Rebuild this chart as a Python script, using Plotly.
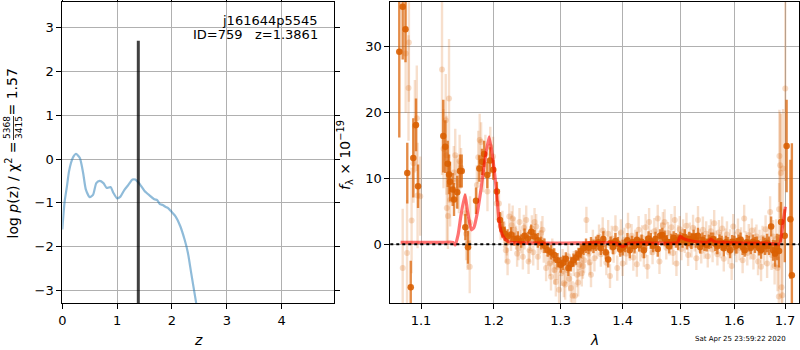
import plotly.graph_objects as go

# ---------------- left panel: redshift probability ----------------
pz_z = [0.0, 0.04, 0.085, 0.12, 0.158, 0.2, 0.25, 0.32, 0.38, 0.43, 0.5, 0.56, 0.62, 0.68,
        0.75, 0.81, 0.88, 0.93, 1.0, 1.06, 1.13, 1.2, 1.28, 1.33, 1.41, 1.5, 1.59, 1.68,
        1.73, 1.78, 1.83, 1.88, 1.93, 1.98, 2.07, 2.15, 2.23, 2.29, 2.35, 2.44, 2.5]
pz_logp = [-1.61, -1.0, -0.62, -0.3, -0.09, 0.05, 0.12, 0.02, -0.32, -0.7, -0.87, -0.82, -0.55, -0.5,
           -0.55, -0.66, -0.64, -0.77, -0.9, -0.86, -0.71, -0.6, -0.47, -0.47, -0.57, -0.73, -0.83, -0.92,
           -0.94, -1.03, -1.05, -1.09, -1.12, -1.19, -1.32, -1.53, -1.84, -2.14, -2.6, -3.28, -3.7]
best_z = [1.3861, 1.3861]
best_logp = [-10.0, 2.7]

# ---------------- right panel: spectrum ----------------
light_wave = [1.0762, 1.0800, 1.0818, 1.0837, 1.0842, 1.0877, 1.0901, 1.0920, 1.0945, 1.0955, 1.0990,
              1.1280, 1.1300, 1.1330, 1.1340, 1.1345, 1.1360, 1.1375, 1.1390, 1.1440, 1.1460, 1.1480,
              1.1510, 1.1520, 1.1540, 1.1600, 1.1610, 1.1630, 1.1660, 1.1665, 1.1760, 1.1780, 1.1800,
              1.1820, 1.1850, 1.1880, 1.1910, 1.1950, 1.1990, 1.2043,
              1.2075, 1.2100, 1.2150, 1.2175, 1.2200, 1.2225, 1.2250, 1.2275, 1.2300, 1.2325, 1.2340,
              1.2375, 1.2400, 1.2425, 1.2450, 1.2475, 1.2510, 1.2525, 1.2560, 1.2600, 1.2625, 1.2650,
              1.2700, 1.2740, 1.2775, 1.2810, 1.2850, 1.2890, 1.2925, 1.2950, 1.2975, 1.3010, 1.3050,
              1.3096, 1.3134, 1.3187, 1.3225, 1.3257, 1.3294, 1.3332, 1.3370, 1.3406, 1.3440, 1.3480,
              1.3535, 1.3578,
              1.361, 1.364, 1.367, 1.370, 1.373, 1.376, 1.379, 1.382, 1.385, 1.388, 1.391, 1.394,
              1.397, 1.400, 1.403, 1.406, 1.409, 1.412, 1.415, 1.418, 1.421, 1.424, 1.427, 1.430,
              1.433, 1.436, 1.439, 1.442, 1.445, 1.448, 1.451, 1.454, 1.457, 1.460, 1.463, 1.466,
              1.469, 1.472, 1.475, 1.478, 1.481, 1.484, 1.487, 1.490, 1.493, 1.496, 1.499, 1.502,
              1.505, 1.508, 1.511, 1.514, 1.517, 1.520, 1.523, 1.526, 1.529, 1.532, 1.535, 1.538,
              1.541, 1.544, 1.547, 1.550, 1.553, 1.556, 1.559, 1.562, 1.565, 1.568, 1.571, 1.574,
              1.577, 1.580, 1.583, 1.586, 1.589, 1.592, 1.595, 1.598, 1.601, 1.604, 1.607, 1.610,
              1.613, 1.616, 1.619, 1.622, 1.625, 1.628, 1.631, 1.634, 1.637, 1.640, 1.643, 1.646,
              1.649, 1.652, 1.655, 1.658, 1.661, 1.664, 1.667, 1.670, 1.673, 1.676, 1.679, 1.682,
              1.685, 1.688,
              1.6875, 1.6887, 1.6900, 1.6915, 1.6930, 1.6945, 1.6960, 1.7005,
              1.2125, 1.2190, 1.2260, 1.2360, 1.2440, 1.2540, 1.2580, 1.2680, 1.2720, 1.2830, 1.2870,
              1.2905, 1.3030, 1.3070, 1.3115, 1.3160, 1.3205, 1.3275, 1.3310, 1.3350, 1.3460, 1.3510]
light_flux = [-3.6, 28.9, -1.3, 23.7, 30.6, 3.6, 12.3, 17.9, 19.1, 7.4, 7.3,
              26.5, 14.5, 18.8, 13.5, 5.5, 4.3, 22.1, 6.7, 10.9, 13.5, 9.5,
              8.7, 12.6, 11.6, 4.7, 1.6, 0.1, -3.4, 3.3, 9.0, 13.2, 15.8,
              15.5, 10.9, 13.6, 8.0, 14.8, 13.3, 6.2,
              6.2, 2.7, 1.5, -0.9, -2.6, 4.2, 0.8, 3.9, 2.2, 1.0, -1.4,
              3.4, 0.4, -1.9, 1.2, 3.7, -2.6, -0.9, 2.4, 3.4, 2.7, -1.9,
              1.7, -0.9, -3.6, -1.4, -4.9, -2.4, -5.7, -3.4, -6.9, -4.4, -5.9,
              -3.9, -5.2, -7.8, -7.8, -4.6, -3.1, -4.4, -2.4, 3.7, -1.4, -4.6,
              -2.1, -0.4,
              1.2, -1.5, 2.1, 0.4, -2.8, 1.6, -4.8, 0.9, -1.1, 2.4, -3.6, 0.2,
              1.8, -2.9, 0.7, -1.4, 2.8, -0.6, 1.3, -2.0, 0.5, -3.0, 2.2, -0.8,
              1.0, -1.7, 2.6, -3.4, 3.4, 0.3, -1.2, 2.0, 0.9, 3.9, -2.6, 1.5,
              2.9, 3.4, -0.5, 1.7, 0.2, 2.6, -1.3, 3.7, -2.9, 1.1, 2.3, -0.7,
              1.9, 0.5, 2.8, -1.6, 1.4, -0.2, 2.5, 0.8, -2.1, 3.7, 0.6, -1.0,
              2.2, -0.4, 1.6, -1.8, 0.9, 2.0, -0.8, 3.2, 0.3, -1.5, 1.8, -0.1,
              2.4, -2.2, 0.7, 1.5, -1.2, 0.4, -3.3, 2.7, 0.1, -1.0, 1.9, -0.5,
              0.8, -2.4, 3.9, 0.2, -1.3, 1.4, -0.3, 2.1, -1.9, 0.6, 1.2, -2.6,
              0.3, -3.4, 1.0, -1.1, 2.3, -2.9, 0.5, 4.9, -1.6, 1.2, -3.3, 0.8,
              -3.6, 5.3,
              -7.9, 13.4, 12.0, 10.8, -6.5, -7.7, 11.5, 23.6,
              3.1, 0.2, 2.9, -0.6, 2.5, 0.9, -1.2, 0.3, 2.2, -2.9, -1.1,
              -3.9, -2.6, -6.1, -1.8, -6.6, -2.9, -5.8, -1.9, -3.3, -2.7, 0.4]
light_err = [9, 9, 8, 8, 9, 8, 6, 7, 8, 8, 6,
             16, 6, 7, 6, 5, 5, 9, 4, 4, 4, 4,
             4, 4, 3, 3, 4, 4, 4, 4, 3, 4, 4,
             3, 3, 3, 3, 3, 3, 2.5,
             2.2, 2.0, 2.0, 1.9, 2.1, 2.0, 1.8, 2.0, 1.9, 1.8, 2.0,
             2.1, 1.8, 1.9, 2.0, 2.2, 1.9, 1.8, 2.0, 2.1, 1.9, 2.0,
             1.8, 1.9, 2.0, 1.8, 2.1, 1.9, 2.2, 2.0, 2.3, 1.9, 2.1,
             2.0, 1.9, 2.2, 2.0, 1.9, 1.8, 2.0, 1.9, 2.0, 1.8, 1.9,
             2.0, 1.8,
             1.8, 1.9, 2.0, 1.7, 1.9, 2.1, 1.8, 1.9, 1.7, 2.0, 1.9, 1.8,
             2.0, 1.9, 1.8, 1.7, 2.0, 1.9, 1.8, 2.0, 1.7, 1.9, 2.1, 1.8,
             1.9, 1.7, 2.0, 1.8, 2.1, 1.9, 1.8, 2.0, 1.7, 2.1, 1.9, 1.8,
             2.0, 1.9, 1.8, 1.7, 1.9, 2.0, 1.8, 2.1, 1.9, 1.8, 2.0, 1.7,
             1.9, 1.8, 2.0, 1.7, 1.9, 1.8, 2.0, 1.9, 1.8, 2.1, 1.7, 1.9,
             2.0, 1.8, 1.9, 1.7, 2.0, 1.8, 1.9, 2.0, 1.8, 1.7, 1.9, 2.0,
             1.8, 1.9, 1.7, 2.0, 1.8, 1.9, 2.1, 1.9, 1.8, 1.7, 2.0, 1.9,
             1.8, 2.0, 2.1, 1.8, 1.9, 1.7, 2.0, 1.8, 1.9, 2.0, 1.8, 2.1,
             1.9, 2.2, 1.8, 2.0, 2.1, 2.2, 2.0, 2.4, 2.3, 2.5, 2.8, 3.0,
             3.5, 4.0,
             6.0, 7.0, 8.0, 9.0, 7.0, 9.0, 9.0, 14.0,
             2.0, 1.9, 2.1, 1.8, 2.0, 1.9, 2.0, 1.8, 2.1, 1.9, 2.0,
             2.2, 1.9, 2.3, 2.0, 2.2, 1.9, 2.1, 2.0, 1.9, 2.0, 1.8]

bin_wave = [1.0718, 1.0762, 1.0798, 1.0821, 1.0866, 1.0899, 1.0934, 1.0961,
            1.1297, 1.1324, 1.1357, 1.1375, 1.1389, 1.1425, 1.1443, 1.1488, 1.1525, 1.1549,
            1.1599, 1.1636, 1.1748, 1.1795, 1.1833, 1.1862, 1.1908, 1.1946, 1.1993,
            1.2045, 1.209, 1.2125, 1.216, 1.220, 1.225, 1.230, 1.235, 1.240, 1.245, 1.250,
            1.255, 1.260, 1.265, 1.270, 1.275, 1.280, 1.285, 1.290, 1.295, 1.300, 1.304,
            1.308, 1.312, 1.316, 1.320, 1.324, 1.328, 1.332, 1.336, 1.340, 1.344, 1.348,
            1.352, 1.356,
            1.360, 1.364, 1.368, 1.372, 1.376, 1.380, 1.384, 1.388, 1.392, 1.396, 1.400,
            1.404, 1.408, 1.412, 1.416, 1.420, 1.424, 1.428, 1.432, 1.436, 1.440, 1.444,
            1.448, 1.452, 1.456, 1.460, 1.464, 1.468, 1.472, 1.476, 1.480, 1.484, 1.488,
            1.492, 1.496, 1.500, 1.504, 1.508, 1.512, 1.516, 1.520, 1.524, 1.528, 1.532,
            1.536, 1.540, 1.544, 1.548, 1.552, 1.556, 1.560, 1.564, 1.568, 1.572, 1.576,
            1.580, 1.584, 1.588, 1.592, 1.596, 1.600, 1.604, 1.608, 1.612, 1.616, 1.620,
            1.624, 1.628, 1.632, 1.636, 1.640, 1.644, 1.648, 1.652, 1.656, 1.660, 1.664,
            1.668, 1.672, 1.676, 1.680, 1.684, 1.688, 1.692,
            1.6995, 1.7033, 1.711, 1.714]
bin_flux = [29.2, 36.0, 32.6, 10.8, -6.5, 13.1, 18.1, 8.8,
            16.4, 14.8, 12.2, 10.6, 9.5, 8.3, 6.8, 7.9, 11.1, 11.1,
            2.6, -0.45, 6.6, 11.5, 12.5, 13.7, 10.5, 12.7, 11.3,
            8.0, 3.7, 2.2, 1.6, 1.2, 1.5, 0.8, 0.9, 0.5, 1.3, 0.9,
            1.9, 1.2, 0.6, 0.2, -0.2, -0.9, -1.2, -1.6, -2.4, -3.1, -2.8,
            -2.2, -3.6, -3.0, -2.4, -2.0, -1.5, -1.0, -0.6, -0.2, -0.5, 0.0,
            -0.3, 0.1,
            0.3, -0.6, 0.8, -1.2, -2.3, 0.2, -0.4, 0.5, 0.1, -0.8, -0.5,
            -0.2, 0.6, -0.9, 0.3, -0.3, 0.7, -0.1, 0.4, -0.9, 0.2, 0.9,
            0.5, -0.2, 0.8, -0.7, 1.3, 1.4, 0.9, 0.4, -0.3, 0.4, 1.0,
            0.6, 0.3, 0.9, 0.6, 1.1, 0.2, 0.8, 0.5, 1.2, 0.6, 1.3,
            -0.4, 0.7, 0.2, -0.1, 0.4, 0.6, 0.8, 0.1, -0.3, 0.5, 0.2,
            -0.6, 0.3, 0.0, -0.9, 0.4, 0.2, -0.2, 0.5, 0.7, -0.4, -0.9,
            0.3, 0.1, -0.5, 0.4, -0.1, 0.2, -0.6, -0.9, 0.0, -0.3, 0.2,
            -0.2, 2.7, -0.9, -1.4, -0.4, -1.0, 3.4,
            1.3, 14.9, 3.8, -4.7]
bin_err = [13, 8, 5, 4.6, 4, 6, 4, 3.3,
           5.5, 4, 3.5, 3, 3, 2.5, 2.5, 2.5, 2.5, 2.5,
           2.0, 2.5, 2.0, 2.0, 2.0, 2.0, 2.0, 2.0, 1.5,
           1.5, 1.2, 1.2, 1.1, 1.1, 1.1, 1.0, 1.1, 1.0, 1.1, 1.0,
           1.1, 1.0, 1.1, 1.0, 1.1, 1.0, 1.1, 1.0, 1.1, 1.2, 1.1,
           1.0, 1.2, 1.1, 1.0, 1.1, 1.0, 1.1, 1.0, 1.1, 1.0, 1.1,
           1.0, 1.1,
           1.1, 1.0, 1.2, 1.1, 1.2, 1.0, 1.1, 1.2, 1.0, 1.1, 1.2,
           1.0, 1.1, 1.2, 1.0, 1.1, 1.2, 1.0, 1.1, 1.2, 1.0, 1.1,
           1.2, 1.0, 1.1, 1.2, 1.0, 1.1, 1.2, 1.0, 1.1, 1.2, 1.0,
           1.1, 1.2, 1.0, 1.1, 1.2, 1.0, 1.1, 1.2, 1.0, 1.1, 1.2,
           1.0, 1.1, 1.2, 1.0, 1.1, 1.2, 1.0, 1.1, 1.2, 1.0, 1.1,
           1.2, 1.0, 1.1, 1.2, 1.0, 1.1, 1.2, 1.0, 1.1, 1.2, 1.0,
           1.1, 1.2, 1.0, 1.1, 1.2, 1.0, 1.1, 1.3, 1.2, 1.3, 1.4,
           1.4, 1.5, 1.6, 2.0, 2.0, 2.5, 3.0,
           4.0, 7.0, 9.0, 20.0]

model_wave = [1.0735, 1.100, 1.130, 1.143, 1.146, 1.150, 1.154, 1.1594, 1.163, 1.1683, 1.172,
              1.177, 1.182, 1.187, 1.1933, 1.198, 1.2033, 1.2078, 1.212, 1.218, 1.225, 1.300,
              1.390, 1.400, 1.410, 1.450, 1.495, 1.500, 1.505, 1.520, 1.540, 1.550, 1.556,
              1.562, 1.580, 1.620, 1.660, 1.689, 1.693, 1.697, 1.701]
model_flux = [0.3, 0.3, 0.3, 0.3, -0.1, 1.5, 4.5, 7.5, 5.0, 2.2, 2.6,
              5.0, 8.5, 12.5, 16.3, 13.5, 8.7, 3.5, 1.5, 0.6, 0.3, 0.2,
              0.2, -0.35, 0.2, 0.2, 0.3, 1.26, 0.9, 0.5, 0.3, 0.3, 0.75,
              0.4, 0.3, 0.2, 0.2, 0.1, 1.5, 3.8, 5.7]

x1_ticks = [0, 1, 2, 3, 4]
y1_ticks = [-3, -2, -1, 0, 1, 2, 3]
x2_ticks = [1.1, 1.2, 1.3, 1.4, 1.5, 1.6, 1.7]
x2_labels = ["1.1", "1.2", "1.3", "1.4", "1.5", "1.6", "1.7"]
y2_ticks = [0, 10, 20, 30]

W, H = 800, 350
FONT = "DejaVu Sans"
ORANGE = "217,95,2"

fig = go.Figure()

# left
fig.add_trace(go.Scatter(x=pz_z, y=pz_logp, mode="lines", line=dict(color="rgba(31,119,180,0.5)", width=2.2, shape="spline", smoothing=0.6),
                         xaxis="x", yaxis="y", showlegend=False, hoverinfo="skip"))
fig.add_trace(go.Scatter(x=best_z, y=best_logp, mode="lines", line=dict(color="rgba(0,0,0,0.75)", width=3),
                         xaxis="x", yaxis="y", showlegend=False, hoverinfo="skip"))

# right
fig.add_trace(go.Scatter(x=light_wave, y=light_flux, mode="markers",
                         marker=dict(color=f"rgba({ORANGE},0.22)", size=6),
                         error_y=dict(type="data", array=light_err, color=f"rgba({ORANGE},0.2)", thickness=2.4, width=0),
                         xaxis="x2", yaxis="y2", showlegend=False, hoverinfo="skip"))
fig.add_trace(go.Scatter(x=bin_wave, y=bin_flux, mode="markers",
                         marker=dict(color=f"rgba({ORANGE},0.9)", size=6.5),
                         error_y=dict(type="data", array=bin_err, color=f"rgba({ORANGE},0.72)", thickness=2.4, width=0),
                         xaxis="x2", yaxis="y2", showlegend=False, hoverinfo="skip"))
fig.add_trace(go.Scatter(x=model_wave, y=model_flux, mode="lines",
                         line=dict(color="rgba(255,0,0,0.55)", width=3.2, shape="spline", smoothing=0.5),
                         xaxis="x2", yaxis="y2", showlegend=False, hoverinfo="skip"))

ydom = [1 - 303.3 / H, 1 - 2 / H]
axis_common = dict(showline=True, linecolor="black", linewidth=1, ticks="outside", ticklen=5,
                   tickcolor="black", tickwidth=1, showgrid=True, gridcolor="#b0b0b0", gridwidth=1,
                   zeroline=False, tickfont=dict(family=FONT, size=13, color="black"), automargin=False)

fig.update_layout(
    width=W, height=H, margin=dict(l=0, r=0, t=0, b=0),
    paper_bgcolor="white", plot_bgcolor="white",
    font=dict(family=FONT, size=13, color="black"),
    xaxis=dict(domain=[62.3 / W, 334.3 / W], range=[0, 4.96], tickvals=x1_ticks, mirror="ticks", anchor="y", **axis_common),
    yaxis=dict(domain=ydom, range=[-3.296, 3.586], tickvals=y1_ticks, mirror="ticks", anchor="x", **axis_common),
    xaxis2=dict(domain=[390.3 / W, 799 / W], type="log", range=[0.025447, 0.237721], tickvals=x2_ticks,
                ticktext=x2_labels, mirror=True, anchor="y2", **axis_common),
    yaxis2=dict(domain=ydom, range=[-8.935, 36.72], tickvals=y2_ticks, mirror=True, anchor="x2", **axis_common),
)

# zero line
fig.add_shape(type="line", xref="x2 domain", yref="y2", x0=0, x1=1, y0=0, y1=0,
              line=dict(color="black", width=2, dash="dot"), layer="above")

def px(x):
    return x / W

def py(y):
    return 1 - y / H

ann = []
# left y title pieces
ann.append(dict(text="log <i>p</i>(z) / χ<sup>2</sup> =", x=px(12), y=py(241), xanchor="center", yanchor="bottom",
                textangle=-90, font=dict(family=FONT, size=14)))
ann.append(dict(text="5368<br>3415", x=px(13), y=py(128), xanchor="center", yanchor="middle",
                textangle=-90, font=dict(family=FONT, size=9)))
ann.append(dict(text="= 1.57", x=px(12), y=py(67), xanchor="center", yanchor="top",
                textangle=-90, font=dict(family=FONT, size=14)))
# right y title
ann.append(dict(text="<i>f</i><sub>λ</sub> × 10<sup>−19</sup>", x=px(345), y=py(155), xanchor="center", yanchor="middle",
                textangle=-90, font=dict(family=FONT, size=14)))
# x titles
ann.append(dict(text="<i>z</i>", x=px(198), y=py(340), xanchor="center", yanchor="middle", font=dict(family=FONT, size=14)))
ann.append(dict(text="<i>λ</i>", x=px(594), y=py(340), xanchor="center", yanchor="middle", font=dict(family=FONT, size=14)))
# labels
ann.append(dict(text="j161644p5545", x=px(320), y=py(20), xanchor="right", yanchor="middle", font=dict(family=FONT, size=13)))
ann.append(dict(text="ID=759\u00a0\u00a0\u00a0z=1.3861", x=px(320), y=py(34), xanchor="right", yanchor="middle",
                font=dict(family=FONT, size=13)))
ann.append(dict(text="Sat Apr 25 23:59:22 2020", x=px(788), y=py(339), xanchor="right", yanchor="middle",
                font=dict(family=FONT, size=7)))
for a in ann:
    a.update(xref="paper", yref="paper", showarrow=False)
fig.update_layout(annotations=ann)

# fraction bar
fig.add_shape(type="line", xref="paper", yref="paper", x0=px(13.5), x1=px(13.5), y0=py(116), y1=py(140),
              line=dict(color="black", width=0.8))

fig.write_html("out.html", config={"displayModeBar": False},
               post_script="document.body.style.margin='0';document.body.style.overflow='hidden';")
